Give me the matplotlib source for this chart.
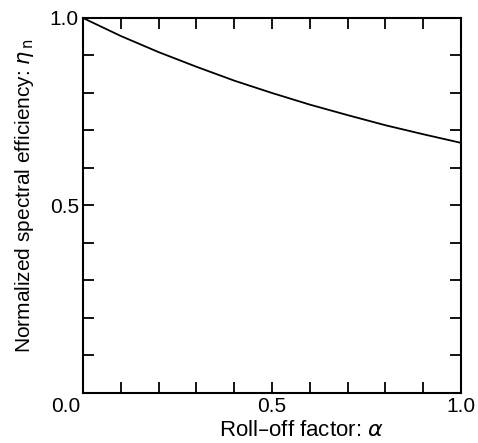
import matplotlib
matplotlib.use("Agg")
import matplotlib.pyplot as plt
from matplotlib.ticker import MultipleLocator

# Values
alpha = [0.0, 0.1, 0.2, 0.3, 0.4, 0.5, 0.6, 0.7, 0.8, 0.9, 1.0]
eta_n = [1.000, 0.952, 0.909, 0.870, 0.833, 0.800, 0.769, 0.741, 0.714, 0.690, 0.667]

x_ticks = [0.5, 1.0]
y_ticks = [0.5, 1.0]

plt.rcParams["font.family"] = ["Liberation Sans", "DejaVu Sans"]
plt.rcParams["mathtext.fontset"] = "dejavusans"

fig = plt.figure(figsize=(4.78, 4.43), dpi=100)
ax = fig.add_axes([0.1736, 0.1129, 0.7908, 0.8465])

ax.plot(alpha, eta_n, color="black", linewidth=1.3)

ax.set_xlim(0, 1)
ax.set_ylim(0, 1)
ax.set_xticks(x_ticks)
ax.set_yticks(y_ticks)
ax.set_xticklabels([f"{v:.1f}" for v in x_ticks])
ax.set_yticklabels([f"{v:.1f}" for v in y_ticks])
ax.xaxis.set_minor_locator(MultipleLocator(0.1))
ax.yaxis.set_minor_locator(MultipleLocator(0.1))

ax.tick_params(which="both", direction="in", top=True, right=True,
               width=1.3, labelsize=15, pad=3)
ax.tick_params(which="major", length=8)
ax.tick_params(which="minor", length=8)
for s in ax.spines.values():
    s.set_linewidth(1.5)

# shared origin label
ax.text(-0.008, -0.01, "0.0", transform=ax.transAxes, ha="right", va="top", fontsize=15)

ax.set_xlabel(r"Roll–off factor: $\alpha$", fontsize=16)
ax.set_ylabel(r"Normalized spectral efficiency: $\eta_{\,\rm n}$", fontsize=15)
ax.xaxis.set_label_coords(0.577, -0.072)
ax.yaxis.set_label_coords(-0.125, 0.525)

fig.savefig("out.png", dpi=100)
